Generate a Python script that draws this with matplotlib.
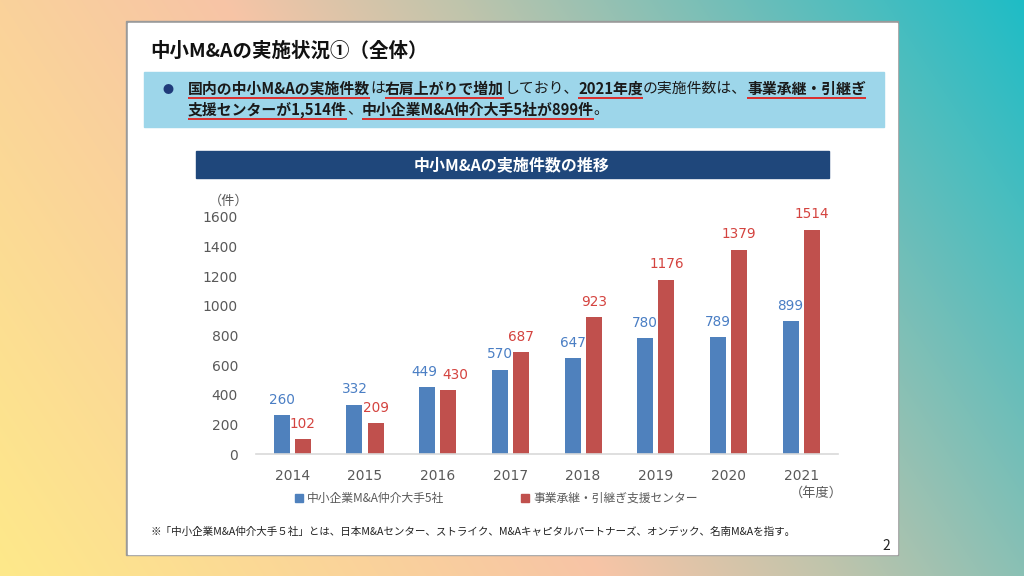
import numpy as np
import matplotlib
matplotlib.use("Agg")
import matplotlib.pyplot as plt
from matplotlib.patches import Rectangle

plt.rcParams['font.family'] = ['Noto Sans CJK JP', 'DejaVu Sans']

# data
years = ["2014", "2015", "2016", "2017", "2018", "2019", "2020", "2021"]
big5 = [260, 332, 449, 570, 647, 780, 789, 899]
center = [102, 209, 430, 687, 923, 1176, 1379, 1514]
yticks = [0, 200, 400, 600, 800, 1000, 1200, 1400, 1600]

BLUE = "#4f81bd"
RED = "#c0504d"
GREY = "#595959"

W, H = 1024, 576
fig = plt.figure(figsize=(10.24, 5.76), dpi=100)

# background: pixel coordinate axes
bg = fig.add_axes([0, 0, 1, 1])
bg.set_xlim(0, W)
bg.set_ylim(H, 0)
bg.axis("off")

xx, yy = np.meshgrid(np.arange(W), np.arange(H))
t = (0.836 * xx + 0.549 * (H - yy)) / 1172.0
stops = [0, 0.27, 0.43, 0.6, 0.8, 1.0]
cols = np.array([(254, 233, 138), (250, 210, 155), (247, 196, 166),
                 (190, 196, 172), (110, 190, 185), (30, 188, 198)]) / 255.0
img = np.dstack([np.interp(t, stops, cols[:, i]) for i in range(3)])
bg.imshow(img, extent=(0, W, H, 0), aspect="auto", zorder=0)

# slide
bg.add_patch(Rectangle((126, 21), 772, 534, color="#9a9a9a", zorder=1))
bg.add_patch(Rectangle((128, 23), 769, 531, color="white", zorder=2))

bg.text(150, 51, "中小M&Aの実施状況①（全体）", fontsize=14, fontweight="bold",
        color="#111111", va="center", ha="left", zorder=3)

bg.add_patch(Rectangle((144, 72), 740, 55, color="#9dd6ea", zorder=2))
bg.text(168, 90, "●", fontsize=8, color="#1f3a7a", va="center", ha="center", zorder=3)

renderer = fig.canvas.get_renderer()


def rich_line(x, y, parts):
    for txt, bold in parts:
        tx = bg.text(x, y, txt, fontsize=10.7, fontweight="bold" if bold else "normal",
                     color="#1a1a1a", va="center", ha="left", zorder=3)
        ext = tx.get_window_extent(renderer)
        x1 = x + ext.width
        if bold:
            bg.plot([x, x1], [y + 9, y + 9], color="#e0201c", lw=1.3, zorder=3,
                    solid_capstyle="butt")
        x = x1


rich_line(188, 89, [("国内の中小M&Aの実施件数", True), ("は", False),
                    ("右肩上がりで増加", True), ("しており、", False),
                    ("2021年度", True), ("の実施件数は、", False),
                    ("事業承継・引継ぎ", True)])
rich_line(188, 110, [("支援センターが1,514件", True), ("、", False),
                     ("中小企業M&A仲介大手5社が899件", True), ("。", False)])

bg.add_patch(Rectangle((196, 151), 633, 27, color="#1f477b", zorder=2))
bg.text(512, 165, "中小M&Aの実施件数の推移", fontsize=11.5, fontweight="bold",
        color="white", va="center", ha="center", zorder=3)

bg.text(229, 201, "（件）", fontsize=9.5, color=GREY, va="center", ha="center", zorder=3)
bg.text(816, 493, "（年度）", fontsize=9.5, color=GREY, va="center", ha="center", zorder=3)

# legend
bg.add_patch(Rectangle((295, 494), 8, 8, color=BLUE, zorder=3))
bg.text(307, 498, "中小企業M&A仲介大手5社", fontsize=8.5, color=GREY,
        va="center", ha="left", zorder=3)
bg.add_patch(Rectangle((521, 494), 8, 8, color=RED, zorder=3))
bg.text(533, 498, "事業承継・引継ぎ支援センター", fontsize=8.5, color=GREY,
        va="center", ha="left", zorder=3)

bg.text(151, 532, "※「中小企業M&A仲介大手５社」とは、日本M&Aセンター、ストライク、"
        "M&Aキャピタルパートナーズ、オンデック、名南M&Aを指す。",
        fontsize=7.6, color="#222222", va="center", ha="left", zorder=3)
bg.text(886, 546, "2", fontsize=10, color="#222222", va="center", ha="center", zorder=3)

# chart
ax = fig.add_axes([256 / W, 1 - 454 / H, (837.5 - 256) / W, (454 - 217) / H])
ax.patch.set_alpha(0)
x = np.arange(len(years))
w = 0.22
off = 0.145
b1 = ax.bar(x - off, big5, w, color=BLUE)
b2 = ax.bar(x + off, center, w, color=RED)
l1 = ax.bar_label(b1, labels=[str(v) for v in big5], padding=6, color="#4a7ec4",
                  fontsize=9.8, family="DejaVu Sans")
l2 = ax.bar_label(b2, labels=[str(v) for v in center], padding=6, color="#d4433f",
                  fontsize=9.8, family="DejaVu Sans")
# 2016 labels nearly touch each other: nudge apart like the original
l1[2].xyann = (-2, 6)
l2[2].xyann = (5, 6)

ax.set_xlim(-0.5, len(years) - 0.5)
ax.set_ylim(0, 1600)
ax.set_xticks(x)
ax.set_xticklabels(years, family="DejaVu Sans", fontsize=10, color=GREY)
ax.set_yticks(yticks)
ax.set_yticklabels([str(v) for v in yticks], family="DejaVu Sans", fontsize=10, color=GREY)
ax.tick_params(axis="both", length=0)
ax.tick_params(axis="y", pad=13)
ax.tick_params(axis="x", pad=11)
for s in ["top", "right", "left"]:
    ax.spines[s].set_visible(False)
ax.spines["bottom"].set_color("#d9d9d9")
ax.spines["bottom"].set_linewidth(1.2)

fig.savefig("out.png", dpi=100)
